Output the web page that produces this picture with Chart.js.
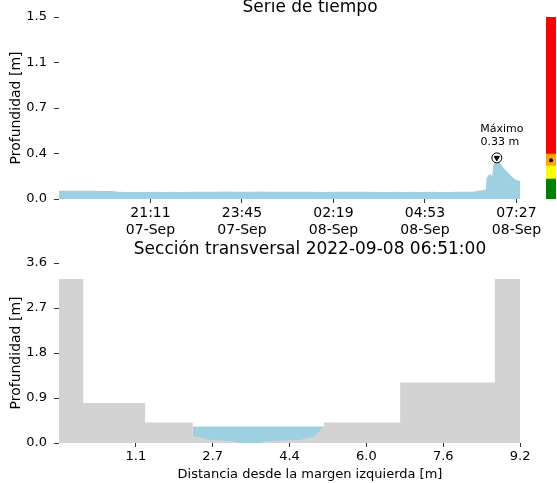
<!DOCTYPE html>
<html>
<head>
<meta charset="utf-8">
<script src="https://cdn.jsdelivr.net/npm/chart.js@4.4.0/dist/chart.umd.min.js"></script>
<style>
    html, body { margin: 0; padding: 0; background: #fff; overflow: hidden; }
    #lienzo { position: relative; width: 557px; height: 483px; overflow: hidden; }
    #serie { position: absolute; left: 0; top: 0; }
    #seccion { position: absolute; left: 0; top: 240px; }
    #alertas { position: absolute; left: 542px; top: 0; }
</style>
</head>
<body>
<div id="lienzo">
    <canvas id="serie" width="620" height="240"></canvas>
    <canvas id="seccion" width="620" height="243"></canvas>
    <canvas id="alertas" width="18" height="240"></canvas>
</div>
<script>
// Serie de tiempo (hora, profundidad en m)
const horasSerie = ['18:37', '18:52', '19:07', '19:22', '19:37', '19:52', '20:07', '20:17', '20:32', '20:47',
    '21:02', '21:17', '21:32', '21:47', '22:02', '22:17', '22:32', '22:47', '23:02', '23:17',
    '23:32', '23:47', '00:02', '00:17', '00:32', '00:47', '01:02', '01:17', '01:32', '01:47',
    '02:02', '02:17', '02:32', '02:47', '03:02', '03:17', '03:32', '03:47', '04:02', '04:17',
    '04:32', '04:47', '05:02', '05:17', '05:32', '05:47', '06:02', '06:17', '06:22', '06:30',
    '06:35', '06:37', '06:40', '06:43', '06:46', '06:48', '06:51', '06:54', '06:58', '07:02',
    '07:07', '07:11', '07:15', '07:19', '07:24', '07:28', '07:33'];
const profSerie = [0.066, 0.067, 0.066, 0.067, 0.066, 0.065, 0.064, 0.059, 0.057, 0.056,
    0.057, 0.058, 0.057, 0.058, 0.057, 0.058, 0.059, 0.058, 0.059, 0.060,
    0.059, 0.058, 0.059, 0.060, 0.059, 0.058, 0.059, 0.058, 0.059, 0.058,
    0.057, 0.058, 0.059, 0.058, 0.059, 0.058, 0.057, 0.057, 0.058, 0.057,
    0.058, 0.057, 0.058, 0.057, 0.057, 0.058, 0.059, 0.060, 0.066, 0.070,
    0.075, 0.17, 0.19, 0.20, 0.18, 0.27, 0.30, 0.33, 0.30, 0.27,
    0.24, 0.22, 0.20, 0.18, 0.16, 0.15, 0.145];
const horaInicio = '18:37';
const horaFin = '08:42';

const horasTicks = ['21:11', '23:45', '02:19', '04:53', '07:27'];
const diasTicks = ['07-Sep', '07-Sep', '08-Sep', '08-Sep', '08-Sep'];
const valoresTicksY1 = [0, 0.365, 0.73, 1.095, 1.46];
const etiquetasY1 = ['0.0', '0.4', '0.7', '1.1', '1.5'];

// Umbrales de alerta (m): verde, amarillo, naranja, rojo
const umbrales = [0, 0.16, 0.265, 0.36, 1.46];
const coloresAlerta = ['#008000', '#ffff00', '#ffa500', '#ff0000'];
const nivelIndicador = 0.31;

// Seccion transversal: distancia (m) y cota del fondo (m)
const distFondo = [-0.49, 0.02, 0.02, 1.32, 1.32, 2.32, 2.32, 2.47, 2.61, 3.10, 3.31, 3.73, 3.80, 4.16, 4.58, 4.72, 4.86, 5.04, 5.08, 5.08, 6.68, 6.68, 8.67, 8.67, 9.2];
const cotaFondo = [3.28, 3.28, 0.80, 0.80, 0.41, 0.41, 0.13, 0.12, 0.07, 0.04, 0.0, 0.0, 0.03, 0.05, 0.06, 0.10, 0.12, 0.30, 0.33, 0.41, 0.41, 1.21, 1.21, 3.28, 3.28];
const distAgua = [2.32, 5.08];
const nivelAgua = 0.33;

const ticksX2 = [1.125, 2.74, 4.355, 5.97, 7.585, 9.2];
const etiquetasX2 = ['1.1', '2.7', '4.4', '6.0', '7.6', '9.2'];
const ticksY2 = [0, 0.9, 1.8, 2.7, 3.6];
const etiquetasY2 = ['0.0', '0.9', '1.8', '2.7', '3.6'];

const azul = '#9dd1e1';
const gris = '#d3d3d3';

Chart.defaults.font.family = 'DejaVu Sans';
Chart.defaults.color = '#000';

// pasa 'HH:MM' a minutos desde el 07-Sep 00:00
function aMinutos(h) {
    const p = h.split(':');
    let m = parseInt(p[0]) * 60 + parseInt(p[1]);
    if (parseInt(p[0]) < 12) m += 1440;
    return m;
}

const puntosSerie = horasSerie.map((h, i) => ({ x: aMinutos(h), y: profSerie[i] }));
const maximo = Math.max(...profSerie);
const puntoMax = puntosSerie[profSerie.indexOf(maximo)];

// textos propios: titulo de cada grafico y etiquetas
function textos(lista) {
    return {
        id: 'textos',
        afterDraw(chart) {
            const ctx = chart.ctx;
            const area = chart.chartArea;
            ctx.save();
            ctx.fillStyle = '#000';
            ctx.textAlign = 'center';
            ctx.textBaseline = 'alphabetic';
            lista.forEach(t => {
                ctx.font = t.size + 'px "DejaVu Sans"';
                let x = (area.left + area.right) / 2;
                let y = t.y;
                if (t.punto) {
                    const meta = chart.getDatasetMeta(0).data[0];
                    x = meta.x + t.dx;
                    y = meta.y + t.dy;
                }
                ctx.fillText(t.texto, x, y);
            });
            ctx.restore();
        }
    };
}

const ejeComun = {
    grid: { display: true, drawOnChartArea: false, tickLength: 4, color: '#333' },
    border: { display: false }
};

new Chart(document.getElementById('serie'), {
    type: 'line',
    data: {
        datasets: [{
            type: 'scatter',
            data: [puntoMax],
            pointRadius: 5,
            pointBackgroundColor: '#fff',
            pointBorderColor: '#000',
            pointBorderWidth: 1,
            order: 1
        }, {
            type: 'scatter',
            data: [puntoMax],
            pointStyle: 'triangle',
            rotation: 180,
            pointRadius: 3,
            pointBackgroundColor: '#000',
            pointBorderColor: '#000',
            pointBorderWidth: 1,
            order: 0
        }, {
            data: puntosSerie,
            fill: 'origin',
            backgroundColor: azul,
            borderColor: azul,
            borderWidth: 0,
            pointRadius: 0,
            tension: 0,
            order: 2
        }]
    },
    options: {
        responsive: false,
        animation: false,
        layout: { padding: { top: 17, right: 59, left: 0, bottom: 0 } },
        plugins: { legend: { display: false }, tooltip: { enabled: false } },
        scales: {
            x: {
                ...ejeComun,
                type: 'linear',
                min: aMinutos(horaInicio),
                max: aMinutos(horaFin),
                afterBuildTicks: s => { s.ticks = horasTicks.map(h => ({ value: aMinutos(h) })); },
                afterFit: s => { s.height = 41; },
                ticks: {
                    font: { size: 14 },
                    padding: 2,
                    maxRotation: 0,
                    autoSkip: false,
                    callback: (v, i) => [horasTicks[i], diasTicks[i]]
                }
            },
            y: {
                ...ejeComun,
                min: 0,
                max: 1.46,
                afterBuildTicks: s => { s.ticks = valoresTicksY1.map(v => ({ value: v })); },
                afterFit: s => { s.width = 59; },
                ticks: { font: { size: 13 }, padding: 7, callback: (v, i) => etiquetasY1[i] },
                grid: { display: true, drawOnChartArea: false, tickLength: 5, color: '#333' },
                title: { display: true, text: 'Profundidad [m]', font: { size: 14 }, padding: { top: 8, bottom: 0 } }
            }
        }
    },
    plugins: [textos([
        { texto: 'Serie de tiempo', size: 17, y: 12 },
        { texto: 'Máximo', size: 11, punto: true, dx: 5, dy: -25.5 },
        { texto: maximo.toFixed(2) + ' m', size: 11, punto: true, dx: 3, dy: -12.5 }
    ])]
});

new Chart(document.getElementById('alertas'), {
    type: 'bar',
    data: {
        labels: [''],
        datasets: [{
            type: 'line',
            data: [nivelIndicador],
            showLine: false,
            pointRadius: 2,
            pointBackgroundColor: '#000',
            pointBorderWidth: 0,
            order: 0
        }].concat(coloresAlerta.map((c, i) => ({
            data: [[umbrales[i], umbrales[i + 1]]],
            backgroundColor: c,
            borderWidth: 0,
            barPercentage: 1,
            categoryPercentage: 1,
            grouped: false,
            order: 1
        })))
    },
    options: {
        responsive: false,
        animation: false,
        layout: { padding: { top: 17, bottom: 41, left: 0, right: 0 } },
        plugins: { legend: { display: false }, tooltip: { enabled: false } },
        scales: {
            x: { display: false },
            y: { display: false, min: 0, max: 1.46 }
        }
    }
});

new Chart(document.getElementById('seccion'), {
    type: 'scatter',
    data: {
        datasets: [{
            data: distFondo.map((d, i) => ({ x: d, y: cotaFondo[i] })),
            showLine: true,
            fill: 'origin',
            backgroundColor: gris,
            borderColor: gris,
            borderWidth: 0,
            pointRadius: 0,
            order: 0
        }, {
            data: distAgua.map(d => ({ x: d, y: nivelAgua })),
            showLine: true,
            fill: 'origin',
            backgroundColor: azul,
            borderColor: azul,
            borderWidth: 0,
            pointRadius: 0,
            order: 1
        }]
    },
    options: {
        responsive: false,
        animation: false,
        layout: { padding: { top: 23, right: 59, left: 0, bottom: 0 } },
        plugins: { legend: { display: false }, tooltip: { enabled: false } },
        scales: {
            x: {
                ...ejeComun,
                type: 'linear',
                min: -0.49,
                max: 10.06,
                afterBuildTicks: s => { s.ticks = ticksX2.map(v => ({ value: v })); },
                afterFit: s => { s.height = 40; },
                ticks: { font: { size: 13 }, padding: 2, maxRotation: 0, autoSkip: false, callback: (v, i) => etiquetasX2[i] }
            },
            y: {
                ...ejeComun,
                min: 0,
                max: 3.6,
                afterBuildTicks: s => { s.ticks = ticksY2.map(v => ({ value: v })); },
                afterFit: s => { s.width = 59; },
                ticks: { font: { size: 13 }, padding: 7, callback: (v, i) => etiquetasY2[i] },
                grid: { display: true, drawOnChartArea: false, tickLength: 5, color: '#333' },
                title: { display: true, text: 'Profundidad [m]', font: { size: 14 }, padding: { top: 8, bottom: 0 } }
            }
        }
    },
    plugins: [textos([
        { texto: 'Sección transversal 2022-09-08 06:51:00', size: 17, y: 14 },
        { texto: 'Distancia desde la margen izquierda [m]', size: 13, y: 238 }
    ])]
});
</script>
</body>
</html>
